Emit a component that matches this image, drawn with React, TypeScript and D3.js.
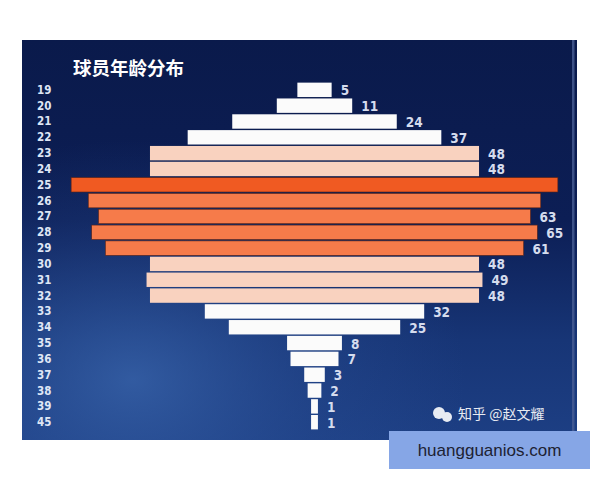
import React from "react";
import * as d3 from "d3";

const ages = ["19","20","21","22","23","24","25","26","27","28","29","30","31","32","33","34","35","36","37","38","39","45"];
const counts = [5,11,24,37,48,48,71,66,63,65,61,48,49,48,32,25,8,7,3,2,1,1];
const hiddenLabelAges = ["25","26"];
const title = "球员年龄分布";
const watermark = "知乎 @赵文耀";
const site = "huangguanios.com";

const W = 600, H = 480;
const bg = { x: 22, y: 40, w: 555, h: 400 };
const centerX = 314.5;

function barColor(v: number): string {
  if (v >= 70) return "#f05a22";
  if (v >= 60) return "#f67b4a";
  if (v >= 45) return "#f9d2bf";
  return "#fbfbfb";
}

export default function App() {
  const half = d3.scaleLinear().domain([0, 65]).range([0, 222.8]);
  const y = d3.scaleBand<string>().domain(ages).range([82, 82 + 22 * 15.82]).paddingInner(0.09).paddingOuter(0.04);
  const bh = y.bandwidth();
  return (
    <svg width={W} height={H} style={{ position: "absolute", left: 0, top: 0 }}>
      <defs>
        <linearGradient id="bgLin" x1="0" y1="0" x2="0" y2="1">
          <stop offset="0" stopColor="#0a1a4b" />
          <stop offset="0.45" stopColor="#0c1e55" />
          <stop offset="0.75" stopColor="#173576" />
          <stop offset="1" stopColor="#1d3f84" />
        </linearGradient>
        <radialGradient id="bgGlow" cx="0.2" cy="0.85" r="0.6">
          <stop offset="0" stopColor="#3a66ad" stopOpacity={0.75} />
          <stop offset="0.6" stopColor="#2a4f96" stopOpacity={0.3} />
          <stop offset="1" stopColor="#2a4f96" stopOpacity={0} />
        </radialGradient>
      </defs>
      <rect x={0} y={0} width={W} height={H} fill="#ffffff" />
      <rect x={bg.x} y={bg.y} width={bg.w} height={bg.h} fill="url(#bgLin)" />
      <rect x={bg.x} y={bg.y} width={bg.w} height={bg.h} fill="url(#bgGlow)" />
      <rect x={572} y={bg.y} width={2.5} height={bg.h} fill="#4a5f95" opacity={0.8} />
      <text x={73} y={75} fill="#ffffff" fontFamily="'Noto Sans CJK SC'" fontWeight={700} fontSize={18.5}>{title}</text>
      {ages.map((a, i) => {
        const v = counts[i];
        const yy = y(a) as number;
        const hw = half(v);
        return (
          <g key={a}>
            <text x={37} y={yy + bh / 2} dominantBaseline="central" fill="#dfe6f5" fontFamily="'DejaVu Sans Condensed', 'DejaVu Sans'" fontWeight={700} fontSize={11.5}>{a}</text>
            <rect x={centerX - hw} y={yy} width={hw * 2} height={bh} fill={barColor(v)} stroke={v >= 60 ? "#5a2418" : "none"} strokeWidth={0.6} />
            {hiddenLabelAges.includes(a) ? null : (
              <text x={centerX + hw + 9} y={yy + bh / 2 + 0.5} dominantBaseline="central" fill="#d5dcee" fontFamily="'DejaVu Sans Condensed', 'DejaVu Sans'" fontWeight={700} fontSize={13.5}>{v}</text>
            )}
          </g>
        );
      })}
      <g opacity={0.9}>
        <circle cx={439} cy={413} r={6} fill="#ffffff" />
        <circle cx={447} cy={417} r={5} fill="#ffffff" />
        <text x={458} y={419} fill="#ffffff" fontFamily="'Noto Sans CJK SC'" fontSize={14}>{watermark}</text>
      </g>
      <rect x={389} y={431} width={201} height={38} fill="#86a6e6" />
      <text x={489.5} y={456} textAnchor="middle" fill="#1d2233" fontFamily="'Liberation Sans', Arial" fontSize={17}>{site}</text>
    </svg>
  );
}
